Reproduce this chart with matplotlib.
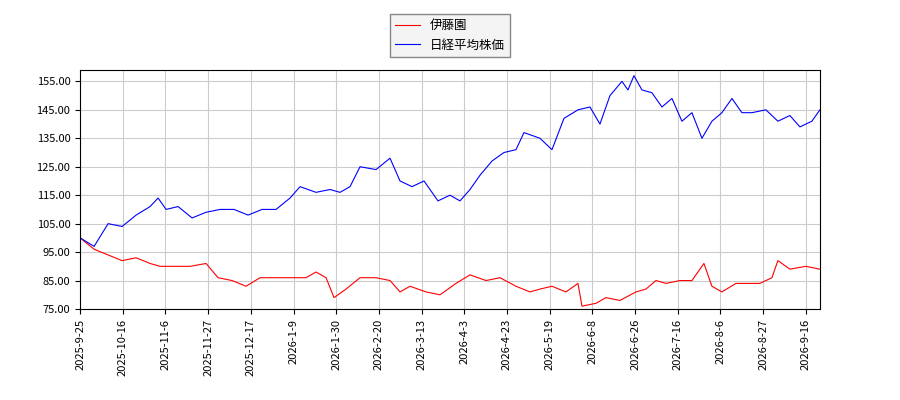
import matplotlib.pyplot as plt

plt.rcParams['font.family'] = ['Noto Sans CJK JP', 'DejaVu Sans']

# x positions (trading-day scale, ticks every 21.35 units) and values
nikkei_days = [0, 7, 14, 21, 28, 35, 39, 43, 49, 56, 63, 70, 77, 84, 91, 98, 105, 110, 118, 125, 130, 135,
               140, 148, 155, 160, 166, 172, 179, 185, 190, 195, 200, 206, 212, 218, 222, 230, 236, 242,
               249, 255, 260, 265, 271, 274, 277, 281, 286, 291, 296, 301, 306, 311, 316, 321, 326, 331,
               336, 343, 349, 355, 360, 366, 370]
nikkei = [100, 97, 105, 104, 108, 111, 114, 110, 111, 107, 109, 110, 110, 108, 110, 110, 114, 118, 116, 117,
          116, 118, 125, 124, 128, 120, 118, 120, 113, 115, 113, 117, 122, 127, 130, 131, 137, 135, 131, 142,
          145, 146, 140, 150, 155, 152, 157, 152, 151, 146, 149, 141, 144, 135, 141, 144, 149, 144, 144,
          145, 141, 143, 139, 141, 145]

itoen_days = [0, 7, 14, 21, 28, 35, 40, 48, 55, 63, 69, 76, 83, 90, 98, 105, 113, 118, 123, 127, 133, 140,
              148, 155, 160, 165, 173, 180, 188, 195, 203, 210, 218, 225, 230, 236, 243, 249, 251, 258,
              263, 270, 278, 283, 288, 293, 300, 306, 312, 316, 321, 328, 335, 340, 346, 349, 355, 363, 370]
itoen = [100, 96, 94, 92, 93, 91, 90, 90, 90, 91, 86, 85, 83, 86, 86, 86, 86, 88, 86, 79, 82, 86, 86, 85,
         81, 83, 81, 80, 84, 87, 85, 86, 83, 81, 82, 83, 81, 84, 76, 77, 79, 78, 81, 82, 85, 84, 85, 85,
         91, 83, 81, 84, 84, 84, 86, 92, 89, 90, 89]

tick_labels = ['2025-9-25', '2025-10-16', '2025-11-6', '2025-11-27', '2025-12-17', '2026-1-9',
               '2026-1-30', '2026-2-20', '2026-3-13', '2026-4-3', '2026-4-23', '2026-5-19',
               '2026-6-8', '2026-6-26', '2026-7-16', '2026-8-6', '2026-8-27', '2026-9-16']
tick_pos = [21.35 * i for i in range(len(tick_labels))]

fig = plt.figure(figsize=(9, 4), dpi=100)
ax = fig.add_axes([0.089, 0.2275, 0.822, 0.5975])
ax.plot(itoen_days, itoen, color='red', lw=0.8, label='伊藤園')
ax.plot(nikkei_days, nikkei, color='blue', lw=0.8, label='日経平均株価')

ax.set_xticks(tick_pos)
ax.set_xticklabels(tick_labels, rotation=90, fontsize=8)
ax.set_xlim(0, 370)
ax.set_ylim(75, 159)
ax.set_yticks(range(75, 160, 10))
ax.set_yticklabels([f'{v:.2f}' for v in range(75, 160, 10)], fontsize=8)
ax.grid(True, color='#cccccc', lw=0.8)
ax.legend(loc='lower center', bbox_to_anchor=(0.5, 1.03), fontsize=9, fancybox=False,
          edgecolor='#888888', facecolor='#f4f4f4', framealpha=1)
fig.savefig('out.png')
